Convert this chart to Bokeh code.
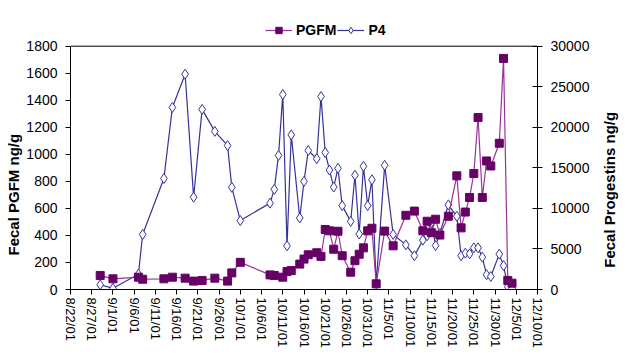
import math
import pandas as pd
from bokeh.plotting import figure
from bokeh.models import (Range1d, LinearAxis, FixedTicker, Legend, LegendItem,
                          Title, Span, ColumnDataSource)
from bokeh.embed import file_html
from bokeh.resources import INLINE

# ---------------- data ----------------
x_tick_labels = ["8/22/01", "8/27/01", "9/1/01", "9/6/01", "9/11/01", "9/16/01",
                 "9/21/01", "9/26/01", "10/1/01", "10/6/01", "10/11/01", "10/16/01",
                 "10/21/01", "10/26/01", "10/31/01", "11/5/01", "11/10/01", "11/15/01",
                 "11/20/01", "11/25/01", "11/30/01", "12/5/01", "12/10/01"]

pgfm_dates = ["8/29/01", "9/1/01", "9/7/01", "9/8/01", "9/13/01", "9/15/01", "9/18/01",
              "9/20/01", "9/22/01", "9/25/01", "9/28/01", "9/29/01", "10/1/01",
              "10/8/01", "10/9/01", "10/11/01", "10/12/01", "10/13/01", "10/15/01",
              "10/16/01", "10/17/01", "10/19/01", "10/20/01", "10/21/01", "10/22/01",
              "10/23/01", "10/24/01", "10/25/01", "10/27/01", "10/28/01", "10/29/01",
              "10/30/01", "10/31/01", "11/1/01", "11/2/01", "11/4/01", "11/6/01",
              "11/9/01", "11/11/01", "11/13/01", "11/14/01", "11/15/01", "11/16/01",
              "11/17/01", "11/19/01", "11/21/01", "11/22/01", "11/23/01", "11/24/01",
              "11/25/01", "11/26/01", "11/27/01", "11/28/01", "11/29/01", "12/1/01",
              "12/2/01", "12/3/01", "12/4/01"]
pgfm_values = [104, 79, 91, 76, 79, 91, 84,
               62, 67, 84, 62, 123, 201,
               108, 104, 91, 133, 140, 188,
               225, 257, 272, 245, 444, 434,
               298, 431, 250, 128, 213, 261,
               308, 434, 453, 42, 432, 323,
               549, 580, 434, 505, 420, 520,
               403, 542, 841, 456, 573, 681,
               858, 1272, 681, 951, 914, 1082,
               1710, 67, 47]

p4_dates = ["8/29/01", "9/1/01", "9/7/01", "9/8/01", "9/13/01", "9/15/01", "9/18/01",
            "9/20/01", "9/22/01", "9/25/01", "9/28/01", "9/29/01", "10/1/01",
            "10/8/01", "10/9/01", "10/10/01", "10/11/01", "10/12/01", "10/13/01",
            "10/15/01", "10/16/01", "10/17/01", "10/19/01", "10/20/01", "10/21/01",
            "10/22/01", "10/23/01", "10/24/01", "10/25/01", "10/27/01", "10/28/01",
            "10/29/01", "10/30/01", "10/31/01", "11/1/01", "11/2/01", "11/4/01",
            "11/6/01", "11/9/01", "11/11/01", "11/13/01", "11/14/01", "11/15/01",
            "11/16/01", "11/17/01", "11/19/01", "11/21/01", "11/22/01", "11/23/01",
            "11/24/01", "11/25/01", "11/26/01", "11/27/01", "11/28/01", "11/29/01",
            "12/1/01", "12/2/01", "12/3/01", "12/4/01"]
p4_values = [584, 146, 1890, 6790, 13690, 22450, 26550,
             11380, 22210, 19500, 17745, 12600, 8500,
             10650, 12350, 16530, 24040, 5380, 19070,
             8820, 13330, 17140, 16125, 23790, 16890,
             14730, 12630, 14940, 10340, 8400, 14090,
             6840, 15190, 10340, 13530, 690, 15310,
             6790, 5500, 4160, 6085, 6630, 8250,
             5415, 6900, 10440, 9030, 4160, 4480,
             4400, 5135, 5135, 3990, 1825, 1600,
             4360, 2945, 340, 120]

pgfm_max = 1800
p4_max = 30000
right_title = "Fecal Progestins ng/g"
left_title_text = "Fecal PGFM ng/g"

# ---------------- helpers ----------------
base = pd.to_datetime("8/22/01", format="%m/%d/%y")


def to_day(s):
    return (pd.to_datetime(s, format="%m/%d/%y") - base).days


tick_pos = [to_day(s) for s in x_tick_labels]
pgfm_src = ColumnDataSource(dict(x=[to_day(s) for s in pgfm_dates], y=pgfm_values))
p4_src = ColumnDataSource(dict(x=[to_day(s) for s in p4_dates], y=p4_values))

FONT = "Liberation Sans"
PURPLE_LINE = "#993399"
PURPLE_MARK = "#660066"
BLUE = "#333399"

# frame: top at 20px (room for the legend), data area 0..1800 spans 246px
FRAME_H = 272
HEAD = FRAME_H / 246.0
p = figure(width=629, height=351, output_backend="svg", toolbar_location=None,
           x_range=Range1d(tick_pos[0], tick_pos[-1]),
           y_range=Range1d(0, pgfm_max * HEAD),
           min_border_left=70, min_border_right=89, min_border_top=20,
           min_border_bottom=59)
p.extra_y_ranges = {"p4": Range1d(0, p4_max * HEAD),
                    "ttl": Range1d(0, FRAME_H)}

p.xgrid.visible = False
p.ygrid.visible = False
p.outline_line_color = None
p.background_fill_color = "white"
p.border_fill_color = "white"
p.add_layout(Span(location=pgfm_max, dimension="width", line_color="#000000",
                  line_width=1))

# x axis
xa = p.xaxis[0]
xa.ticker = FixedTicker(ticks=tick_pos)
xa.major_label_overrides = {t: l for t, l in zip(tick_pos, x_tick_labels)}
xa.major_label_orientation = -math.pi / 2
xa.major_tick_in = 0
xa.major_tick_out = 5
xa.minor_tick_out = 0
xa.minor_tick_in = 0
xa.major_label_standoff = 3
xa.major_label_text_font = FONT
xa.major_label_text_font_size = "13px"
xa.major_label_text_color = "#000000"
xa.axis_line_color = "#000000"
xa.major_tick_line_color = "#000000"

# left axis
ya = p.yaxis[0]
ya.ticker = FixedTicker(ticks=list(range(0, pgfm_max + 1, 200)))
ya.bounds = (0, pgfm_max)
ya.major_tick_in = 0
ya.major_tick_out = 5
ya.minor_tick_in = 0
ya.minor_tick_out = 0
ya.major_label_standoff = 8
ya.major_label_text_font = FONT
ya.major_label_text_font_size = "14px"
ya.major_label_text_color = "#000000"
ya.axis_line_color = "#000000"
ya.major_tick_line_color = "#000000"

# right axis
ra = LinearAxis(y_range_name="p4", ticker=FixedTicker(ticks=list(range(0, p4_max + 1, 5000))))
ra.bounds = (0, p4_max)
ra.major_tick_in = 5
ra.major_tick_out = 5
ra.minor_tick_in = 0
ra.minor_tick_out = 0
ra.major_label_standoff = 8
ra.major_label_text_font = FONT
ra.major_label_text_font_size = "14px"
ra.major_label_text_color = "#000000"
ra.axis_line_color = "#000000"
ra.major_tick_line_color = "#000000"
p.add_layout(ra, "right")

# right axis title: a bare axis whose single label reads bottom-to-top
TITLE_START = 22
rt = LinearAxis(y_range_name="ttl", ticker=FixedTicker(ticks=[TITLE_START]))
rt.major_label_overrides = {TITLE_START: right_title}
rt.major_label_orientation = math.pi / 2
rt.axis_line_color = None
rt.major_tick_line_color = None
rt.minor_tick_line_color = None
rt.major_tick_out = 0
rt.major_tick_in = 0
rt.major_label_standoff = 17
rt.major_label_text_font = FONT
rt.major_label_text_font_style = "bold"
rt.major_label_text_font_size = "15px"
rt.major_label_text_color = "#000000"
p.add_layout(rt, "right")

# left axis title (placed like the original: lower than centre)
left_title = Title(text=left_title_text, align="left", offset=34, standoff=4,
                   text_font=FONT, text_font_style="bold", text_font_size="15px",
                   text_color="#000000")
p.add_layout(left_title, "left")

# series (P4 first, PGFM drawn on top)
p4_line = p.line("x", "y", source=p4_src, y_range_name="p4", line_color=BLUE,
                 line_width=1.2)
p4_pts = p.scatter("x", "y", source=p4_src, y_range_name="p4", marker="diamond",
                   size=10, fill_color="white", line_color=BLUE, line_width=1)
pg_line = p.line("x", "y", source=pgfm_src, line_color=PURPLE_LINE, line_width=1.2)
pg_pts = p.scatter("x", "y", source=pgfm_src, marker="square", size=8,
                   fill_color=PURPLE_MARK, line_color=PURPLE_MARK)

legend = Legend(items=[LegendItem(label="PGFM", renderers=[pg_line, pg_pts]),
                       LegendItem(label="P4", renderers=[p4_line, p4_pts])],
                orientation="horizontal", location=(195, 251), padding=0, margin=0,
                spacing=1, label_standoff=4, glyph_width=27, glyph_height=16,
                label_height=16, border_line_color=None, background_fill_alpha=0,
                label_text_font=FONT, label_text_font_style="bold",
                label_text_font_size="14px", label_text_color="#000000")
p.add_layout(legend)

open("out.html", "w").write(file_html(p, INLINE))
